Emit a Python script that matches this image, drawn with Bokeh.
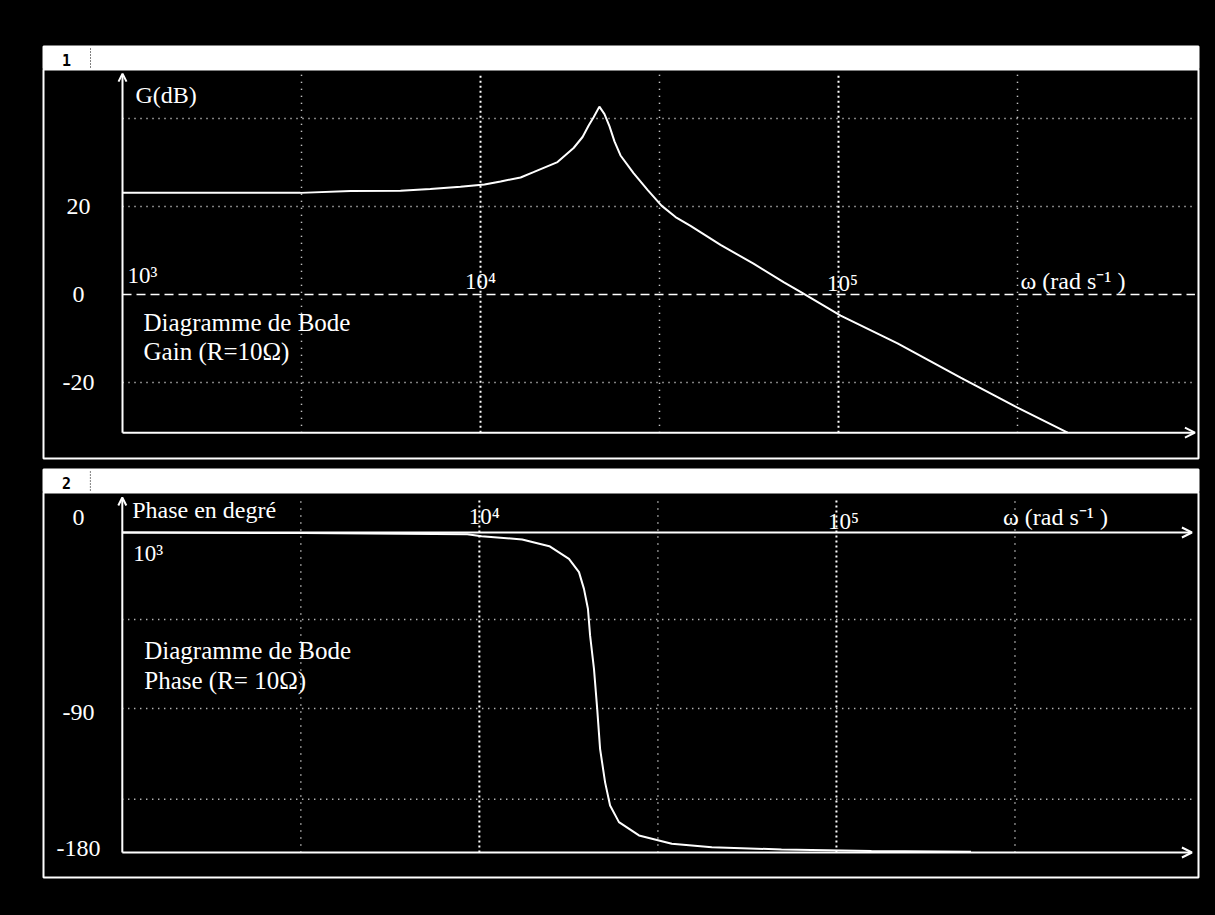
from bokeh.plotting import figure
from bokeh.layouts import column
from bokeh.models import Range1d, Arrow, OpenHead
from bokeh.embed import file_html
from bokeh.resources import INLINE
from bokeh.core.properties import value

# ---------------- data ----------------
gain_omega = [1000, 1650, 3140, 4340, 5980, 7240, 8790, 10260, 11380, 12940, 14060,
              16410, 18200, 19280, 20050, 20700, 21480, 22200, 22930, 23670, 24610,
              26760, 29280, 32030, 35060, 38610, 46820, 57890, 70230, 78320, 101400,
              146200, 219300, 316200, 436500]
gain_db = [23.1, 23.1, 23.1, 23.5, 23.6, 24.0, 24.5, 25.0, 25.7, 26.6, 27.8,
           30.1, 33.3, 35.8, 38.4, 40.3, 42.7, 41.0, 38.2, 34.8, 31.6,
           27.6, 23.8, 20.2, 17.6, 15.6, 11.3, 7.0, 2.8, 0.6, -4.8,
           -11.1, -18.9, -25.7, -31.4]

phase_omega = [1000, 3210, 9250, 10140, 13180, 15700, 17820, 19010, 19630, 20140,
               20420, 20940, 21380, 21780, 22490, 23230, 24600, 27990, 34590, 44770,
               70150, 125300, 238200]
phase_deg = [0, -0.3, -1.0, -2.1, -3.9, -7.7, -14.8, -22.3, -31.7, -42.9,
             -57.9, -76.7, -99.2, -121.7, -140.4, -153.6, -162.9, -170.4, -175.1, -177.0,
             -178.3, -179.2, -179.6]

freq_ticks = [1e3, 1e4, 1e5]
freq_tick_labels = ["10³", "10⁴", "10⁵"]
freq_decades = [1e4, 1e5]
freq_half = [10 ** 3.5, 10 ** 4.5, 10 ** 5.5]
freq_end = 9.9e5

gain_ticks = [20, 0, -20]
gain_tick_labels = ["20", "0", "-20"]
gain_grid = [40, 20, -20]
gain_axis_min = -31.4
gain_axis_max = 50.2

phase_tick_labels = ["0", "-90", "-180"]
phase_grid = [-49, -99, -150]
phase_axis_min = -180
phase_axis_max = 19.7

FONT = value("Liberation Serif")
W = 1199
RIGHT = 9


def panel(height, xr, yr, left, top, bottom, bg="black", log=True):
    p = figure(width=W, height=height, x_range=xr, y_range=yr,
               x_axis_type="log" if log else "linear",
               x_axis_location=None, y_axis_location=None,
               toolbar_location=None, output_backend="svg", title=None,
               min_border_left=left, min_border_right=RIGHT,
               min_border_top=top, min_border_bottom=bottom)
    p.background_fill_color = bg
    p.border_fill_color = "black"
    p.outline_line_color = "white"
    p.outline_line_width = 2
    p.grid.visible = False
    return p


def header(height, top, left, label):
    fw = W - left - RIGHT
    h = panel(height, Range1d(0, fw), Range1d(0, 23), left, top, 0, bg="white", log=False)
    h.text(x=[23], y=[10], text=[label], text_font=value("DejaVu Sans Mono"),
           text_font_style="bold", text_font_size="15px", text_color="black",
           text_align="center", text_baseline="middle")
    h.segment(x0=[47], y0=[2], x1=[47], y1=[21], line_color="black",
              line_dash="1 2", line_width=1)
    return h


def txt(p, x, y, t, size="24px", align="left", baseline="alphabetic", x_offset=0):
    p.text(x=x, y=y, text=t, text_font=FONT, text_font_size=size,
           text_color="white", text_align=align, text_baseline=baseline,
           x_offset=x_offset)


def arrow(p, x0, y0, x1, y1, size=9):
    p.add_layout(Arrow(end=OpenHead(size=size, line_color="white", line_width=2),
                       x_start=x0, y_start=y0, x_end=x1, y_end=y1,
                       line_color="white", line_width=2))


# ---------------- panel 1 : gain ----------------
h1 = header(61, 38, 35, "1")

g = panel(393, Range1d(10 ** 2.7793, 10 ** 6.0056), Range1d(-37.27, 51.14), 35, 0, 4)
g.segment(x0=[1000] * 3, x1=[freq_end] * 3, y0=gain_grid, y1=gain_grid,
          line_color="white", line_width=1.5, line_dash="1 5")
g.segment(x0=freq_half, x1=freq_half, y0=[gain_axis_min] * 3, y1=[gain_axis_max] * 3,
          line_color="white", line_width=1.5, line_dash="1 6")
g.segment(x0=freq_decades, x1=freq_decades, y0=[gain_axis_min] * 2, y1=[gain_axis_max] * 2,
          line_color="white", line_width=2, line_dash="2 3")
g.line([1000, freq_end], [0, 0], line_color="white", line_width=1.5, line_dash="9 5")
arrow(g, 1000, gain_axis_min, 1000, gain_axis_max, size=8)
arrow(g, 1000, gain_axis_min, freq_end, gain_axis_min, size=10)
g.line(gain_omega, gain_db, line_color="white", line_width=2)
txt(g, [753.6] * 3, gain_ticks, gain_tick_labels, align="center", baseline="middle")
txt(g, freq_ticks, [4.3, 3.0, 2.5], freq_tick_labels, size="23px", align="center",
    x_offset=[20, 0, 4])
txt(g, [1087], [45.3], ["G(dB)"])
txt(g, [322400], [3.0], ["ω (rad s⁻¹ )"], size="24px")
txt(g, [1145], [-6.36], ["Diagramme de Bode"], size="25px")
txt(g, [1145], [-12.9], ["Gain (R=10Ω)"], size="25px")

# ---------------- panel 2 : phase ----------------
h2 = header(30, 7, 32, "2")

ph = panel(403, Range1d(10 ** 2.7793, 10 ** 6.0140), Range1d(-194.06, 22.5), 32, 0, 18)
ph.segment(x0=[1000] * 3, x1=[freq_end] * 3, y0=phase_grid, y1=phase_grid,
           line_color="white", line_width=1.5, line_dash="1 5")
ph.segment(x0=freq_half, x1=freq_half, y0=[phase_axis_min] * 3, y1=[phase_axis_max] * 3,
           line_color="white", line_width=1.5, line_dash="1 6")
ph.segment(x0=freq_decades, x1=freq_decades, y0=[phase_axis_min] * 2, y1=[phase_axis_max] * 2,
           line_color="white", line_width=2, line_dash="2 3")
arrow(ph, 1000, phase_axis_min, 1000, phase_axis_max, size=8)
arrow(ph, 1000, 0, freq_end, 0, size=10)
arrow(ph, 1000, phase_axis_min, freq_end, phase_axis_min, size=10)
ph.line(phase_omega, phase_deg, line_color="white", line_width=2)
txt(ph, [753.6] * 3, [8.4, -101.2, -177.8], phase_tick_labels, align="center", baseline="middle")
txt(ph, freq_ticks, [-11.8, 9.0, 6.2], freq_tick_labels, size="23px", align="center",
    x_offset=[26, 5, 7])
txt(ph, [1066], [12.5], ["Phase en degré"])
txt(ph, [292800], [8.9], ["ω (rad s⁻¹ )"], size="24px")
txt(ph, [1152], [-66.4], ["Diagramme de Bode"], size="25px")
txt(ph, [1152], [-83.3], ["Phase (R= 10Ω)"], size="25px")

layout = column(h1, g, h2, ph, spacing=0)
layout.styles = {"background-color": "black"}

html = file_html(layout, INLINE, title="Diagramme de Bode")
html = html.replace(
    "</head>",
    "<style>html{background:#000000;} body{background:#000000;margin:8px !important;padding:0;}</style></head>",
    1)
open("out.html", "w").write(html)
